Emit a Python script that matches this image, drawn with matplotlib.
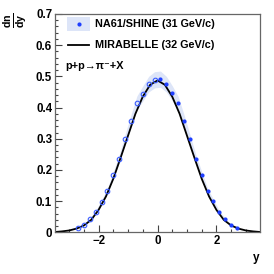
import numpy as np
import matplotlib.pyplot as plt
from matplotlib.patches import Rectangle
from matplotlib.ticker import MultipleLocator

plt.rcParams['font.family'] = ['Liberation Sans', 'DejaVu Sans']
plt.rcParams['mathtext.fontset'] = 'custom'
plt.rcParams['mathtext.rm'] = 'Liberation Sans'
plt.rcParams['mathtext.bf'] = 'Liberation Sans:bold'

# NA61/SHINE measured points (y > 0) and reflected points (y < 0)
y_meas = [0.1, 0.3, 0.5, 0.7, 0.9, 1.1, 1.3, 1.5, 1.7, 1.9, 2.1, 2.3, 2.5, 2.7]
dndy_meas = [0.491, 0.475, 0.446, 0.414, 0.358, 0.298, 0.236, 0.185, 0.133,
             0.099, 0.065, 0.042, 0.024, 0.013]
sys_err = [0.026, 0.025, 0.024, 0.022, 0.019, 0.016, 0.013, 0.010, 0.008,
           0.006, 0.004, 0.003, 0.002, 0.001]

y_refl = [-0.1, -0.3, -0.5, -0.7, -0.9, -1.1, -1.3, -1.5, -1.7, -1.9, -2.1,
          -2.3, -2.5, -2.7]
dndy_refl = [0.489, 0.475, 0.445, 0.415, 0.358, 0.298, 0.236, 0.185, 0.133,
             0.098, 0.065, 0.043, 0.024, 0.013]

# MIRABELLE curve
y_mir = [-3.5, -3.25, -3.0, -2.75, -2.5, -2.25, -2.0, -1.75, -1.5, -1.25,
         -1.0, -0.75, -0.5, -0.25, 0.0, 0.25, 0.5, 0.75, 1.0, 1.25, 1.5,
         1.75, 2.0, 2.25, 2.5, 2.75, 3.0, 3.25, 3.5]
dndy_mir = [0.001, 0.003, 0.006, 0.012, 0.022, 0.040, 0.072, 0.115, 0.172,
            0.240, 0.310, 0.380, 0.435, 0.473, 0.487, 0.473, 0.435, 0.380,
            0.310, 0.240, 0.172, 0.115, 0.072, 0.040, 0.022, 0.012, 0.006,
            0.003, 0.001]

band_col = '#dde5f8'
pt_col = '#1f3fff'

fig = plt.figure(figsize=(2.74, 2.74), dpi=100)
ax = fig.add_axes([0.2007, 0.152, 0.7483, 0.797])

# error band over both halves
yb = y_refl[::-1] + y_meas
db = dndy_refl[::-1] + dndy_meas
eb = sys_err[::-1] + sys_err
lo = [d - e for d, e in zip(db, eb)]
hi = [d + e for d, e in zip(db, eb)]
ax.fill_between(yb, lo, hi, color=band_col, lw=0, zorder=1)

ax.plot(y_mir, dndy_mir, color='black', lw=1.3, zorder=2)
ax.plot(y_meas, dndy_meas, 'o', color=pt_col, ms=3.0, mew=0, zorder=3)
ax.plot(y_refl, dndy_refl, 'o', mfc='none', mec='#3a5cff', ms=3.3, mew=0.8,
        zorder=3)

ax.set_xlim(-3.48, 3.48)
ax.set_ylim(0, 0.7)
ax.xaxis.set_major_locator(MultipleLocator(2))
ax.xaxis.set_minor_locator(MultipleLocator(0.5))
ax.yaxis.set_major_locator(MultipleLocator(0.1))
ax.yaxis.set_minor_locator(MultipleLocator(0.02))
ax.set_yticks([0, 0.1, 0.2, 0.3, 0.4, 0.5, 0.6, 0.7])
ax.set_yticklabels(['0', '0.1', '0.2', '0.3', '0.4', '0.5', '0.6', '0.7'])
ax.tick_params(which='both', direction='in', width=0.8, color='#444444',
               labelsize=8.3)
ax.tick_params(which='major', length=5, pad=2)
ax.tick_params(which='minor', length=2.5)
for lab in ax.get_xticklabels() + ax.get_yticklabels():
    lab.set_fontweight('bold')
for s in ax.spines.values():
    s.set_color('#666666')
    s.set_linewidth(0.9)

# legend drawn by hand
ax.add_patch(Rectangle((0.058, 0.922), 0.113, 0.064, transform=ax.transAxes,
                       color=band_col, lw=0, zorder=4))
ax.plot([0.117], [0.954], 'o', color=pt_col, ms=3.0, mew=0,
        transform=ax.transAxes, zorder=5)
ax.text(0.195, 0.954, 'NA61/SHINE (31 GeV/c)', transform=ax.transAxes,
        fontsize=7.8, fontweight='bold', va='center', ha='left')
ax.plot([0.063, 0.166], [0.856, 0.856], color='black', lw=1.3,
        transform=ax.transAxes)
ax.text(0.195, 0.856, 'MIRABELLE (32 GeV/c)', transform=ax.transAxes,
        fontsize=7.8, fontweight='bold', va='center', ha='left')
ax.text(0.049, 0.76, 'p+p\u2192\u03c0\u207b+X', transform=ax.transAxes,
        fontsize=7.8, fontweight='bold', va='center', ha='left')

fig.text(0.056, 0.927, r'$\frac{\mathbf{dn}}{\mathbf{dy}}$', rotation=90,
         fontsize=11, ha='center', va='center')
fig.text(0.935, 0.058, 'y', fontsize=8.5, fontweight='bold',
         ha='center', va='center')

fig.savefig('out.png', dpi=100)
